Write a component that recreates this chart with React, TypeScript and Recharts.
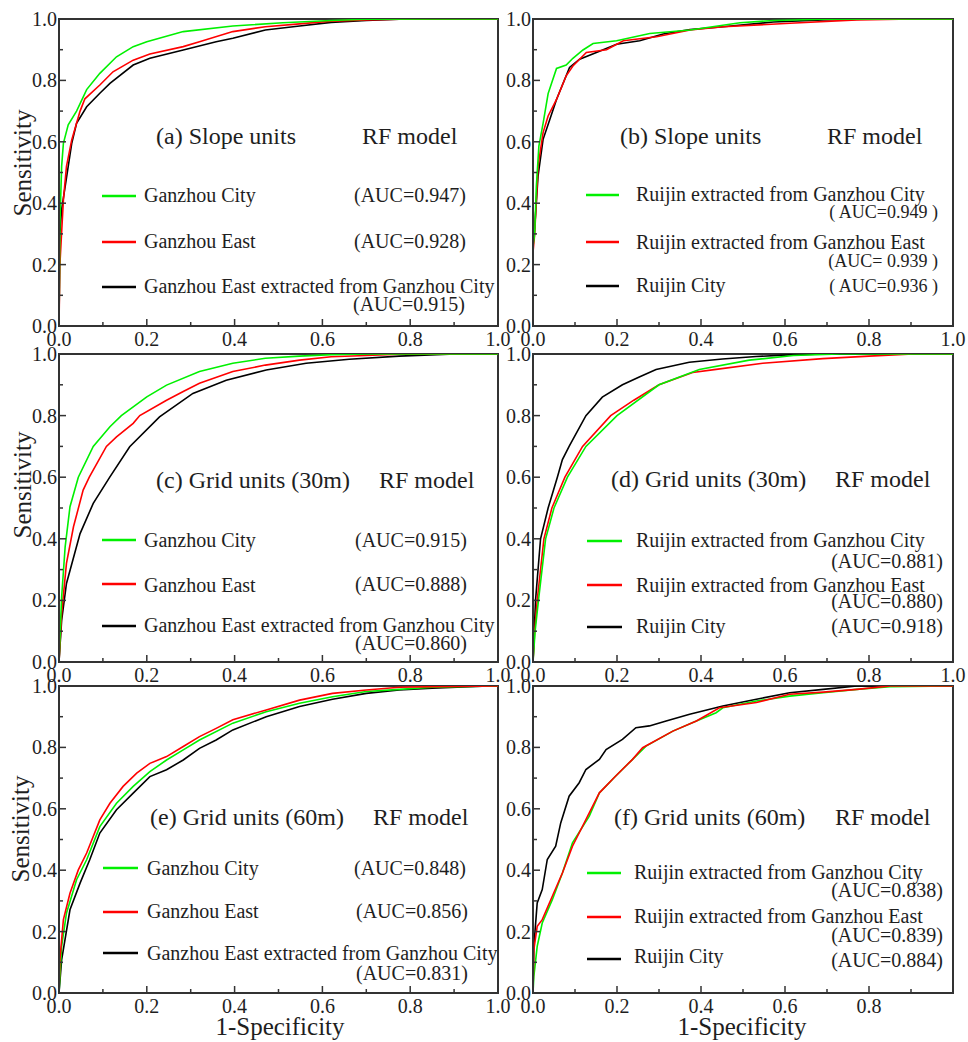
import React from 'react';
import { LineChart, Line, XAxis, YAxis, ReferenceArea } from 'recharts';

const FONT = '"Liberation Serif", "Times New Roman", serif';
const TICKS = [0, 0.1, 0.2, 0.3, 0.4, 0.5, 0.6, 0.7, 0.8, 0.9, 1.0];
const GREEN = '#00f000';
const RED = '#ff0000';
const BLACK = '#000000';
const FRAME = '#333333';
const TEXT = '#1e1e1e';

const LEFT_NAMES = ['Ganzhou City', 'Ganzhou East', 'Ganzhou East extracted from Ganzhou City'];
const RIGHT_NAMES = ['Ruijin extracted from Ganzhou City', 'Ruijin extracted from Ganzhou East', 'Ruijin City'];

const TITLES = ['(a) Slope units', '(b) Slope units', '(c) Grid units (30m)', '(d) Grid units (30m)', '(e) Grid units (60m)', '(f) Grid units (60m)'];
const MODEL_LABEL = 'RF model';

const AUC_A = ['(AUC=0.947)', '(AUC=0.928)', '(AUC=0.915)'];
const AUC_B = ['( AUC=0.949 )', '(AUC= 0.939 )', '( AUC=0.936 )'];
const AUC_C = ['(AUC=0.915)', '(AUC=0.888)', '(AUC=0.860)'];
const AUC_D = ['(AUC=0.881)', '(AUC=0.880)', '(AUC=0.918)'];
const AUC_E = ['(AUC=0.848)', '(AUC=0.856)', '(AUC=0.831)'];
const AUC_F = ['(AUC=0.838)', '(AUC=0.839)', '(AUC=0.884)'];

// Panel (a) Slope units, Ganzhou
const aCityFpr = [0, 0.002, 0.006, 0.01, 0.021, 0.04, 0.063, 0.093, 0.131, 0.169, 0.2, 0.283, 0.396, 0.51, 0.62, 0.7, 0.85, 1];
const aCityTpr = [0, 0.33, 0.52, 0.595, 0.655, 0.7, 0.77, 0.823, 0.877, 0.91, 0.926, 0.959, 0.977, 0.988, 0.995, 0.999, 1, 1];
const aEastFpr = [0, 0.002, 0.01, 0.017, 0.029, 0.048, 0.059, 0.093, 0.123, 0.169, 0.207, 0.283, 0.32, 0.396, 0.47, 0.548, 0.62, 0.7, 0.775, 0.85, 1];
const aEastTpr = [0, 0.2, 0.41, 0.52, 0.606, 0.7, 0.74, 0.785, 0.828, 0.866, 0.886, 0.91, 0.926, 0.959, 0.975, 0.984, 0.993, 0.997, 0.999, 1, 1];
const aExtFpr = [0, 0.002, 0.006, 0.014, 0.021, 0.029, 0.04, 0.063, 0.093, 0.116, 0.169, 0.207, 0.283, 0.358, 0.396, 0.47, 0.548, 0.62, 0.7, 0.775, 0.85, 1];
const aExtTpr = [0, 0.3, 0.38, 0.454, 0.52, 0.595, 0.66, 0.714, 0.758, 0.79, 0.85, 0.872, 0.899, 0.926, 0.937, 0.964, 0.977, 0.989, 0.995, 0.999, 1, 1];

// Panel (b) Slope units, Ruijin
const bCityFpr = [0, 0.004, 0.008, 0.014, 0.024, 0.036, 0.044, 0.056, 0.079, 0.095, 0.119, 0.143, 0.199, 0.278, 0.374, 0.493, 0.572, 0.692, 0.85, 1];
const bCityTpr = [0.26, 0.3, 0.455, 0.586, 0.66, 0.757, 0.79, 0.839, 0.85, 0.872, 0.899, 0.92, 0.929, 0.953, 0.964, 0.988, 0.995, 0.999, 1, 1];
const bEastFpr = [0, 0.004, 0.012, 0.024, 0.036, 0.056, 0.079, 0.095, 0.127, 0.175, 0.215, 0.294, 0.374, 0.453, 0.612, 0.771, 0.906, 1];
const bEastTpr = [0.24, 0.3, 0.52, 0.63, 0.684, 0.738, 0.815, 0.847, 0.891, 0.9, 0.929, 0.942, 0.964, 0.975, 0.986, 0.997, 1, 1];
const bRuijinFpr = [0, 0.004, 0.012, 0.024, 0.04, 0.056, 0.087, 0.111, 0.151, 0.199, 0.254, 0.31, 0.374, 0.453, 0.572, 0.692, 0.811, 1];
const bRuijinTpr = [0.27, 0.32, 0.488, 0.608, 0.673, 0.738, 0.842, 0.869, 0.891, 0.918, 0.929, 0.951, 0.966, 0.975, 0.99, 0.997, 1, 1];

// Panel (c) Grid 30m, Ganzhou
const cCityFpr = [0, 0.006, 0.014, 0.025, 0.044, 0.078, 0.116, 0.142, 0.2, 0.245, 0.32, 0.396, 0.47, 0.548, 0.62, 0.7, 1];
const cCityTpr = [0, 0.211, 0.374, 0.504, 0.6, 0.7, 0.764, 0.8, 0.861, 0.899, 0.943, 0.97, 0.986, 0.993, 0.998, 1, 1];
const cEastFpr = [0, 0.006, 0.017, 0.033, 0.055, 0.069, 0.108, 0.131, 0.169, 0.184, 0.245, 0.283, 0.32, 0.396, 0.47, 0.548, 0.62, 0.7, 0.775, 1];
const cEastTpr = [0, 0.157, 0.32, 0.439, 0.558, 0.6, 0.7, 0.731, 0.775, 0.8, 0.85, 0.878, 0.905, 0.943, 0.964, 0.98, 0.991, 0.995, 0.999, 1];
const cExtFpr = [0, 0.006, 0.017, 0.048, 0.078, 0.116, 0.161, 0.229, 0.305, 0.381, 0.472, 0.563, 0.661, 0.775, 0.889, 1];
const cExtTpr = [0, 0.135, 0.255, 0.417, 0.515, 0.601, 0.699, 0.796, 0.872, 0.915, 0.948, 0.97, 0.983, 0.993, 0.999, 1];

// Panel (d) Grid 30m, Ruijin
const dCityFpr = [0, 0.005, 0.013, 0.03, 0.05, 0.082, 0.126, 0.2, 0.3, 0.396, 0.515, 0.62, 0.73, 1];
const dCityTpr = [0, 0.1, 0.2, 0.4, 0.5, 0.6, 0.7, 0.8, 0.9, 0.95, 0.98, 0.995, 1, 1];
const dEastFpr = [0, 0.004, 0.01, 0.026, 0.045, 0.076, 0.118, 0.185, 0.24, 0.3, 0.38, 0.436, 0.547, 0.69, 0.8, 0.905, 1];
const dEastTpr = [0, 0.1, 0.2, 0.4, 0.5, 0.6, 0.7, 0.8, 0.85, 0.9, 0.94, 0.95, 0.97, 0.985, 0.993, 1, 1];
const dRuijinFpr = [0, 0.006, 0.018, 0.036, 0.058, 0.07, 0.086, 0.126, 0.165, 0.213, 0.253, 0.293, 0.372, 0.451, 0.531, 0.61, 0.69, 1];
const dRuijinTpr = [0, 0.2, 0.4, 0.5, 0.6, 0.657, 0.7, 0.8, 0.86, 0.9, 0.925, 0.95, 0.973, 0.984, 0.992, 0.997, 1, 1];

// Panel (e) Grid 60m, Ganzhou
const eCityFpr = [0, 0.006, 0.017, 0.04, 0.063, 0.093, 0.131, 0.169, 0.207, 0.245, 0.283, 0.32, 0.396, 0.472, 0.548, 0.623, 0.7, 0.775, 0.85, 0.964, 1];
const eCityTpr = [0, 0.152, 0.26, 0.369, 0.434, 0.542, 0.618, 0.673, 0.721, 0.759, 0.792, 0.824, 0.879, 0.916, 0.944, 0.965, 0.982, 0.989, 0.996, 0.999, 1];
const eEastFpr = [0, 0.002, 0.01, 0.025, 0.044, 0.063, 0.093, 0.116, 0.146, 0.177, 0.207, 0.245, 0.283, 0.32, 0.358, 0.396, 0.472, 0.548, 0.623, 0.7, 0.775, 0.85, 1];
const eEastTpr = [0, 0.108, 0.239, 0.325, 0.401, 0.456, 0.564, 0.618, 0.673, 0.716, 0.748, 0.77, 0.803, 0.835, 0.862, 0.89, 0.922, 0.954, 0.976, 0.987, 0.996, 0.998, 1];
const eExtFpr = [0, 0.006, 0.025, 0.048, 0.07, 0.093, 0.131, 0.169, 0.207, 0.245, 0.283, 0.32, 0.358, 0.396, 0.472, 0.548, 0.623, 0.7, 0.775, 0.85, 0.964, 1];
const eExtTpr = [0, 0.108, 0.271, 0.358, 0.434, 0.521, 0.597, 0.651, 0.705, 0.727, 0.759, 0.797, 0.824, 0.857, 0.9, 0.933, 0.957, 0.976, 0.987, 0.993, 0.999, 1];

// Panel (f) Grid 60m, Ruijin
const fCityFpr = [0, 0.002, 0.01, 0.022, 0.046, 0.07, 0.094, 0.134, 0.158, 0.197, 0.237, 0.269, 0.333, 0.389, 0.436, 0.452, 0.532, 0.611, 0.691, 0.771, 0.85, 1];
const fCityTpr = [0, 0.054, 0.152, 0.228, 0.304, 0.391, 0.489, 0.576, 0.652, 0.707, 0.761, 0.804, 0.853, 0.886, 0.913, 0.929, 0.951, 0.967, 0.978, 0.989, 0.998, 1];
const fEastFpr = [0, 0.002, 0.01, 0.022, 0.046, 0.07, 0.094, 0.134, 0.158, 0.197, 0.237, 0.261, 0.333, 0.389, 0.444, 0.532, 0.611, 0.691, 0.771, 0.85, 1];
const fEastTpr = [0, 0.141, 0.217, 0.239, 0.315, 0.391, 0.478, 0.587, 0.652, 0.707, 0.761, 0.799, 0.853, 0.886, 0.929, 0.946, 0.973, 0.98, 0.989, 1, 1];
const fRuijinFpr = [0, 0.002, 0.01, 0.022, 0.034, 0.054, 0.066, 0.086, 0.11, 0.126, 0.158, 0.174, 0.213, 0.245, 0.277, 0.317, 0.373, 0.452, 0.532, 0.611, 0.691, 0.771, 1];
const fRuijinTpr = [0, 0.152, 0.293, 0.337, 0.435, 0.478, 0.554, 0.641, 0.685, 0.728, 0.761, 0.793, 0.826, 0.864, 0.87, 0.886, 0.908, 0.935, 0.957, 0.978, 0.989, 1, 1];

const zip = (xs: number[], ys: number[]) => xs.map((x, i) => ({ x, y: ys[i] }));

type Curve = { color: string; data: { x: number; y: number }[] };
type Rect = { x: number; y: number; w: number; h: number };

const XTick = (props: any) => {
  const { x, y, payload, hideLast } = props;
  const v = Number(payload.value);
  const major = Math.round(v * 10) % 2 === 0;
  const len = major ? 7 : 4;
  const showLabel = major && !(hideLast && v > 0.99);
  return (
    <g>
      <line x1={x} y1={y} x2={x} y2={y - len} stroke={FRAME} strokeWidth={1.5} />
      {showLabel && (
        <text x={x} y={y + 20} textAnchor="middle" fontFamily={FONT} fontSize={20} fill={TEXT}>
          {v.toFixed(1)}
        </text>
      )}
    </g>
  );
};

const YTick = (props: any) => {
  const { x, y, payload } = props;
  const v = Number(payload.value);
  const major = Math.round(v * 10) % 2 === 0;
  const len = major ? 7 : 4;
  return (
    <g>
      <line x1={x} y1={y} x2={x + len} y2={y} stroke={FRAME} strokeWidth={1.5} />
      {major && (
        <text x={x - 2} y={y + 7} textAnchor="end" fontFamily={FONT} fontSize={20} fill={TEXT}>
          {v.toFixed(1)}
        </text>
      )}
    </g>
  );
};

const Panel = ({ rect, curves, hideLast }: { rect: Rect; curves: Curve[]; hideLast?: boolean }) => {
  const W = rect.w + 80;
  const H = rect.h + 60;
  return (
    <div style={{ position: 'absolute', left: rect.x - 60, top: rect.y - 20 }}>
      <LineChart width={W} height={H} margin={{ top: 20, right: 20, bottom: 0, left: 0 }}>
        <XAxis
          type="number"
          dataKey="x"
          domain={[0, 1]}
          ticks={TICKS}
          interval={0}
          height={40}
          tickLine={false}
          tickSize={0}
          tickMargin={0}
          axisLine={{ stroke: FRAME, strokeWidth: 2 }}
          tick={<XTick hideLast={hideLast} />}
          allowDataOverflow
        />
        <YAxis
          type="number"
          domain={[0, 1]}
          ticks={TICKS}
          interval={0}
          width={60}
          tickLine={false}
          tickSize={0}
          tickMargin={0}
          axisLine={{ stroke: FRAME, strokeWidth: 2 }}
          tick={<YTick />}
          allowDataOverflow
        />
        <ReferenceArea x1={0} x2={1} y1={0} y2={1} fill="none" fillOpacity={0} stroke={FRAME} strokeWidth={2} />
        {curves.map((c, i) => (
          <Line
            key={i}
            data={c.data}
            dataKey="y"
            type="linear"
            stroke={c.color}
            strokeWidth={1.6}
            dot={false}
            activeDot={false}
            isAnimationActive={false}
          />
        ))}
      </LineChart>
    </div>
  );
};

const RECTS: Rect[] = [
  { x: 59, y: 19, w: 439, h: 307 },
  { x: 533, y: 19, w: 420, h: 307 },
  { x: 59, y: 354, w: 439, h: 308 },
  { x: 533, y: 354, w: 420, h: 308 },
  { x: 59, y: 686, w: 439, h: 307 },
  { x: 533, y: 686, w: 420, h: 307 },
];

const CURVES: Curve[][] = [
  [
    { color: BLACK, data: zip(aExtFpr, aExtTpr) },
    { color: RED, data: zip(aEastFpr, aEastTpr) },
    { color: GREEN, data: zip(aCityFpr, aCityTpr) },
  ],
  [
    { color: BLACK, data: zip(bRuijinFpr, bRuijinTpr) },
    { color: RED, data: zip(bEastFpr, bEastTpr) },
    { color: GREEN, data: zip(bCityFpr, bCityTpr) },
  ],
  [
    { color: BLACK, data: zip(cExtFpr, cExtTpr) },
    { color: RED, data: zip(cEastFpr, cEastTpr) },
    { color: GREEN, data: zip(cCityFpr, cCityTpr) },
  ],
  [
    { color: BLACK, data: zip(dRuijinFpr, dRuijinTpr) },
    { color: RED, data: zip(dEastFpr, dEastTpr) },
    { color: GREEN, data: zip(dCityFpr, dCityTpr) },
  ],
  [
    { color: BLACK, data: zip(eExtFpr, eExtTpr) },
    { color: GREEN, data: zip(eCityFpr, eCityTpr) },
    { color: RED, data: zip(eEastFpr, eEastTpr) },
  ],
  [
    { color: BLACK, data: zip(fRuijinFpr, fRuijinTpr) },
    { color: GREEN, data: zip(fCityFpr, fCityTpr) },
    { color: RED, data: zip(fEastFpr, fEastTpr) },
  ],
];

type LegendLayout = {
  names: string[];
  aucs: string[];
  lineX: [number, number];
  lineY: number[];
  textX: number;
  textY: number[];
  aucX: number[];
  aucY: number[];
  aucAnchor: 'start' | 'end';
  aucSize: number;
  titleX: number;
  titleY: number;
  rfX: number;
};

const LEGENDS: LegendLayout[] = [
  { names: LEFT_NAMES, aucs: AUC_A, lineX: [102, 136], lineY: [196, 242, 287], textX: 144, textY: [202, 248, 293], aucX: [354, 354, 353], aucY: [202, 248, 311], aucAnchor: 'start', aucSize: 20, titleX: 156, titleY: 144, rfX: 362 },
  { names: RIGHT_NAMES, aucs: AUC_B, lineX: [586, 619], lineY: [195, 242, 286], textX: 636, textY: [201, 249, 292], aucX: [938, 938, 938], aucY: [218, 267, 292], aucAnchor: 'end', aucSize: 18, titleX: 620, titleY: 144, rfX: 827 },
  { names: LEFT_NAMES, aucs: AUC_C, lineX: [102, 136], lineY: [540, 584, 626], textX: 144, textY: [547, 592, 632], aucX: [355, 355, 355], aucY: [547, 591, 650], aucAnchor: 'start', aucSize: 20, titleX: 156, titleY: 488, rfX: 379 },
  { names: RIGHT_NAMES, aucs: AUC_D, lineX: [587, 622], lineY: [541, 585, 627], textX: 636, textY: [547, 592, 633], aucX: [943, 943, 943], aucY: [568, 608, 633], aucAnchor: 'end', aucSize: 20, titleX: 611, titleY: 487, rfX: 835 },
  { names: LEFT_NAMES, aucs: AUC_E, lineX: [103, 138], lineY: [868, 912, 953], textX: 147, textY: [875, 918, 960], aucX: [354, 356, 356], aucY: [875, 918, 980], aucAnchor: 'start', aucSize: 20, titleX: 150, titleY: 825, rfX: 373 },
  { names: RIGHT_NAMES, aucs: AUC_F, lineX: [587, 621], lineY: [873, 917, 959], textX: 634, textY: [879, 923, 963], aucX: [943, 943, 943], aucY: [897, 942, 967], aucAnchor: 'end', aucSize: 20, titleX: 614, titleY: 825, rfX: 835 },
];

const LEGEND_COLORS = [GREEN, RED, BLACK];

const Overlay = () => (
  <svg
    width={968}
    height={1042}
    style={{ position: 'absolute', left: 0, top: 0, pointerEvents: 'none' }}
    fontFamily={FONT}
  >
    {LEGENDS.map((L, p) => (
      <g key={p}>
        <text x={L.titleX} y={L.titleY} fontSize={24} fill={TEXT}>{TITLES[p]}</text>
        <text x={L.rfX} y={L.titleY} fontSize={24} fill={TEXT}>{MODEL_LABEL}</text>
        {L.names.map((n, i) => (
          <g key={i}>
            <line x1={L.lineX[0]} x2={L.lineX[1]} y1={L.lineY[i]} y2={L.lineY[i]} stroke={LEGEND_COLORS[i]} strokeWidth={2.5} />
            <text x={L.textX} y={L.textY[i]} fontSize={20} fill={TEXT}>{n}</text>
            <text x={L.aucX[i]} y={L.aucY[i]} fontSize={L.aucSize} fill={TEXT} textAnchor={L.aucAnchor}>{L.aucs[i]}</text>
          </g>
        ))}
      </g>
    ))}
    {[163, 485, 829].map((cy, i) => (
      <text key={i} x={i === 2 ? 29 : 31} y={cy} fontSize={25} fill={TEXT} textAnchor="middle" transform={`rotate(-90 ${i === 2 ? 29 : 31} ${cy})`}>
        Sensitivity
      </text>
    ))}
    <text x={280} y={1035} fontSize={25} fill={TEXT} textAnchor="middle">1-Specificity</text>
    <text x={742} y={1035} fontSize={25} fill={TEXT} textAnchor="middle">1-Specificity</text>
  </svg>
);

export default function App() {
  return (
    <div style={{ position: 'absolute', left: 0, top: 0, width: 968, height: 1042, background: '#ffffff', overflow: 'hidden' }}>
      {RECTS.map((r, i) => (
        <Panel key={i} rect={r} curves={CURVES[i]} hideLast={i === 5} />
      ))}
      <Overlay />
    </div>
  );
}
